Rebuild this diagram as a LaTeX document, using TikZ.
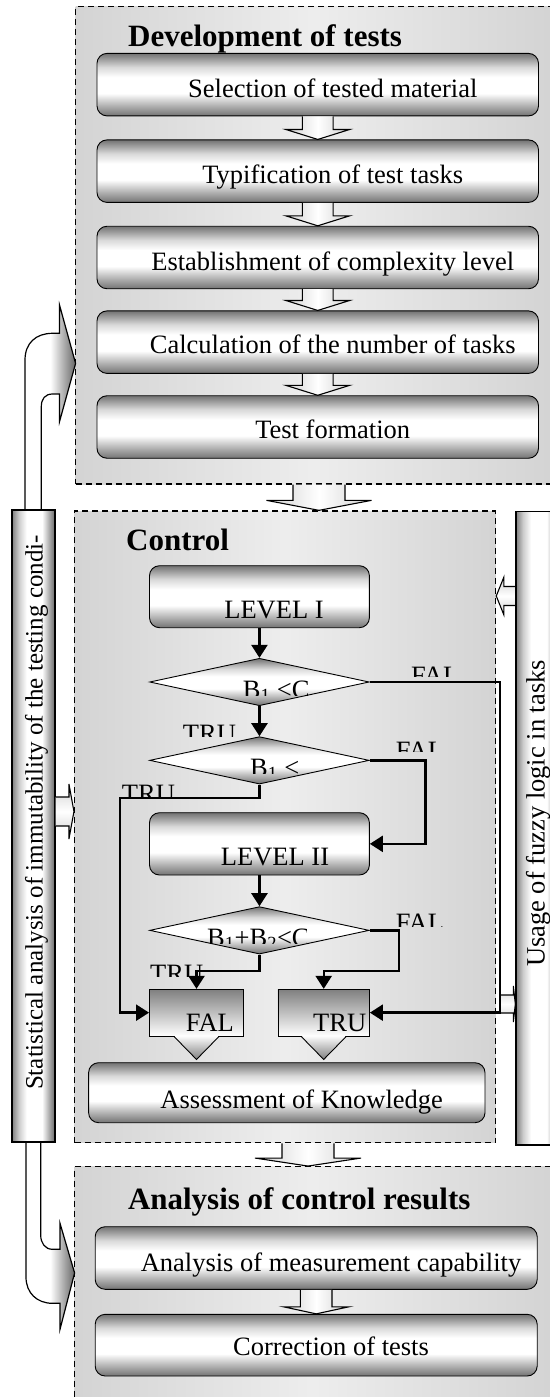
\documentclass[tikz,border=0pt]{standalone}
\usepackage{fontspec}
\setmainfont{Liberation Serif}
\usetikzlibrary{arrows.meta,shapes.geometric,calc}

\pgfdeclareverticalshading{boxsh}{100bp}{color(0bp)=(black!55); color(25bp)=(black!55); color(34bp)=(black!28); color(43bp)=(white); color(56bp)=(white); color(64bp)=(black!15); color(75bp)=(black!55); color(100bp)=(black!55)}
\pgfdeclarehorizontalshading{barsh}{100bp}{color(0bp)=(black!50); color(25bp)=(black!50); color(33bp)=(black!20); color(42bp)=(white); color(60bp)=(white); color(75bp)=(black!60); color(100bp)=(black!60)}
\pgfdeclarehorizontalshading{curvsh}{100bp}{color(0bp)=(white); color(50bp)=(white); color(75bp)=(black!60); color(100bp)=(black!60)}

\newcommand\bodyfont{\fontsize{26.5}{30}\selectfont}
\newcommand\ttlfont{\fontsize{31}{36}\selectfont\bfseries}

\tikzset{
  panel/.style={draw, dash pattern=on 6pt off 4pt, line width=1.3pt,
    left color=black!17, right color=black!17, middle color=black!7,
    rectangle, inner sep=0pt},
  box/.style={draw, line width=0.9pt, rounded corners=10pt, shade, shading=boxsh,
    rectangle, inner sep=0pt},
  dia/.style={diamond, draw, line width=0.9pt, shade, shading=boxsh, inner sep=0pt,
    minimum width=219.5pt, minimum height=47.4pt},
  tfbox/.style={draw, line width=0.9pt, rectangle, top color=black!50, bottom color=white,
    inner sep=0pt, minimum height=46.7pt},
  bar/.style={draw, line width=1.3pt, shade, shading=barsh, rectangle, inner sep=0pt},
  lbl/.style={inner sep=0pt, font=\bodyfont},
  ttl/.style={inner sep=0pt, font=\ttlfont},
  barrow/.style={draw, line width=1.1pt, left color=black!18, right color=black!18, middle color=white},
  barrowh/.style={draw, line width=1.1pt, top color=black!18, bottom color=black!18, middle color=white},
  curv/.style={draw, line width=1.2pt, shade, shading=curvsh},
  flow/.style={line width=2.4pt, -{Triangle[length=13pt,width=16pt]}},
}

\newcommand\bdown[5]{\draw[barrow] let \p1=(#1), \p2=(#2) in
  (\x1-#3pt,\y1) -- (\x1-#3pt,\y2+#5pt) -- (\x1-#4pt,\y2+#5pt) -- (\x1,\y2)
  -- (\x1+#4pt,\y2+#5pt) -- (\x1+#3pt,\y2+#5pt) -- (\x1+#3pt,\y1);}
\newcommand\bright[5]{\draw[barrowh] let \p1=(#1), \p2=(#2) in
  (\x1,\y1+#3pt) -- (\x2-#5pt,\y1+#3pt) -- (\x2-#5pt,\y1+#4pt) -- (\x2,\y1)
  -- (\x2-#5pt,\y1-#4pt) -- (\x2-#5pt,\y1-#3pt) -- (\x1,\y1-#3pt);}
\newcommand\bleft[5]{\draw[barrowh] let \p1=(#1), \p2=(#2) in
  (\x1,\y1+#3pt) -- (\x2+#5pt,\y1+#3pt) -- (\x2+#5pt,\y1+#4pt) -- (\x2,\y1)
  -- (\x2+#5pt,\y1-#4pt) -- (\x2+#5pt,\y1-#3pt) -- (\x1,\y1-#3pt);}
\newcommand\cliptext[6]{\begin{scope}\clip (#2-3,#3-30) rectangle (#5,#4);
  \node[lbl, anchor=base west] (#1) at (#2,#3) {#6};\end{scope}}

\begin{document}
\begin{tikzpicture}[x=1pt,y=-1pt]
\useasboundingbox (0,0) rectangle (549,1397);

% panels
\node[panel, minimum width=475.4pt, minimum height=477.3pt] (p1) at (313.3,245.35) {};
\node[panel, minimum width=421pt, minimum height=631.7pt] (p2) at (285.1,826.85) {};
\node[panel, minimum width=476.4pt, minimum height=233.3pt] (p3) at (312.8,1283.35) {};

% curved arrows
\draw[curv] (25,510) -- (25,360) .. controls (25,343) and (36,333.3) .. (52.5,333.3)
  -- (59.5,333.3) -- (59.5,305) -- (75.6,363.4) -- (59.5,421.7) -- (59.5,394) -- (52.5,394)
  .. controls (45,394) and (41.3,399) .. (41.3,406.7) -- (41.3,510);
\draw[curv] (26,1142) -- (26,1277) .. controls (26,1293) and (37,1303.3) .. (52.5,1303.3)
  -- (60,1303.3) -- (60,1329.3) -- (74.6,1273) -- (60,1223.3) -- (60,1249.3) -- (52.5,1249.3)
  .. controls (45,1249.3) and (40.7,1243) .. (40.7,1235) -- (40.7,1142);

% bars
\coordinate (ya) at (0,811.5);
\coordinate (yb) at (0,596);
\coordinate (yc) at (0,1004);
\coordinate (r1) at (500,0);
\node[bar, minimum width=43pt, minimum height=632pt] (lbar) at (33.5,826) {};
\node[bar, minimum width=44pt, minimum height=633.3pt] (rbar) at (538,828.35) {};
\bright{lbar.east |- ya}{p2.west |- ya}{14.5}{27.5}{5}
\bleft{rbar.west |- yb}{p2.east |- yb}{9.5}{18.8}{7.6}
\bright{r1 |- yc}{rbar.west |- yc}{9}{18}{2}
\node[bar, minimum width=44pt, minimum height=633.3pt] (rbar2) at (538,828.35) {};
\node[rotate=90, anchor=base, inner sep=0pt, font=\fontsize{25}{30}\selectfont] (lt) at (42.7,812.5)
  {Statistical analysis of immutability of the testing condi-};
\node[rotate=90, anchor=base, lbl] (rt) at (544.5,813.5) {Usage of fuzzy logic in tasks};

% panel 1
\node[ttl, anchor=base west] (h1) at (128,46.7) {Development of tests};
\node[box, minimum width=441.5pt, minimum height=62.5pt] (b1) at (317.75,84.65) {};
\node[box, minimum width=441.5pt, minimum height=62.5pt] (b2) at (317.75,171.15) {};
\node[box, minimum width=441.5pt, minimum height=62.5pt] (b3) at (317.75,257.5) {};
\node[box, minimum width=441.5pt, minimum height=62.5pt] (b4) at (317.75,342.15) {};
\node[box, minimum width=441.5pt, minimum height=62.5pt] (b5) at (317.75,427) {};
\node[lbl, anchor=base] (t1) at (332.75,97.7) {Selection of tested material};
\node[lbl, anchor=base] (t2) at (332.75,183.3) {Typification of test tasks};
\node[lbl, anchor=base] (t3) at (332.75,270) {Establishment of complexity level};
\node[lbl, anchor=base] (t4) at (332.75,353.5) {Calculation of the number of tasks};
\node[lbl, anchor=base] (t5) at (332.75,438.5) {Test formation};
\bdown{b1.south}{b2.north}{15.4}{32}{10}
\bdown{b2.south}{b3.north}{15.4}{32}{10}
\bdown{b3.south}{b4.north}{15.4}{32}{10}
\bdown{b4.south}{b5.north}{15.4}{32}{10}

\coordinate (ax1) at (319,0);
\bdown{ax1 |- p1.south}{ax1 |- p2.north}{26}{52.5}{10}

% panel 2
\node[ttl, anchor=base west] (h2) at (126,550) {Control};
\node[box, minimum width=219.9pt, minimum height=62pt] (L1) at (259.45,596.7) {};
\node[lbl, anchor=base] (l1t) at (274,618.3) {LEVEL I};
\node[dia] (d1) at (259.45,682) {};
\node[dia] (d2) at (259.45,760.35) {};
\node[box, minimum width=219.9pt, minimum height=62.3pt] (L2) at (259.45,843.85) {};
\node[lbl, anchor=base] (l2t) at (275,865) {LEVEL II};
\node[dia] (d3) at (259.45,930.35) {};
\node[tfbox, minimum width=94pt] (fb) at (196.5,1012.65) {};
\node[tfbox, minimum width=91.5pt] (tb) at (323.7,1012.65) {};
\foreach \n in {fb,tb}{
  \shade[top color=white, bottom color=black!50] ($(\n.south)+(-22.5,-1)$) -- ($(\n.south)+(22.5,-1)$) -- ($(\n.south)+(0,23)$) -- cycle;
  \draw[line width=0.9pt] ($(\n.south)+(-22.5,0)$) -- ($(\n.south)+(0,23)$) -- ($(\n.south)+(22.5,0)$);
}
\node[lbl, anchor=base west] (fbt) at (185.6,1031.7) {FAL};
\node[lbl, anchor=base west] (tbt) at (313,1031.7) {TRU};
\node[box, minimum width=396.4pt, minimum height=60pt] (ak) at (286.8,1092.7) {};
\node[lbl, anchor=base] (akt) at (301.7,1108.3) {Assessment of Knowledge};

\coordinate (ax2) at (308,0);
\bdown{ax2 |- p2.south}{ax2 |- p3.north}{26}{53}{8}

% panel 3
\node[ttl, anchor=base west] (h3) at (127.8,1209) {Analysis of control results};
\node[box, minimum width=442pt, minimum height=62.6pt] (a1) at (316.2,1258) {};
\node[box, minimum width=442pt, minimum height=61.7pt] (a2) at (316.2,1345.15) {};
\node[lbl, anchor=base] (a1t) at (331,1271.7) {Analysis of measurement capability};
\node[lbl, anchor=base] (a2t) at (331,1355) {Correction of tests};
\bdown{a1.south}{a2.north}{15.8}{32.4}{7}

% flows
\coordinate (r2) at (425.4,0);
\coordinate (k1) at (119.7,797.7);
\coordinate (k3) at (399,971);
\coordinate (k2) at (0,971);
\draw[flow] (L1.south) -- (d1.north);
\draw[flow] (d1.south) -- (d2.north);
\draw[flow] (L2.south) -- (d3.north);
\draw[flow] (d1.east) -| (r1 |- tb.east) -- (tb.east);
\draw[flow] (d2.east) -| (r2 |- L2.east) -- (L2.east);
\draw[flow] (d2.south) |- (k1) |- (fb.west);
\draw[flow] (d3.east) -| (k3) -| (tb.north);
\draw[flow] (d3.south) |- (k2 -| fb.north) -- (fb.north);

% clipped labels
\cliptext{q1}{242.7}{698}{695}{308}{B\textsubscript{1} <C}
\cliptext{q2}{250}{776}{773.3}{400}{B\textsubscript{1} <}
\cliptext{q3}{207}{946}{943.3}{306}{B\textsubscript{1}+B\textsubscript{2}<C}
\cliptext{f1}{411}{684}{676.7}{549}{FAL}
\cliptext{f2}{395.7}{759}{751.7}{549}{FAL}
\cliptext{f3}{395.7}{931}{926}{549}{FAL}
\cliptext{u1}{182.7}{742.5}{736}{300}{TRU}
\cliptext{u2}{121.7}{802.5}{796.7}{300}{TRU}
\cliptext{u3}{150}{982.5}{976}{300}{TRU}
\end{tikzpicture}
\end{document}
